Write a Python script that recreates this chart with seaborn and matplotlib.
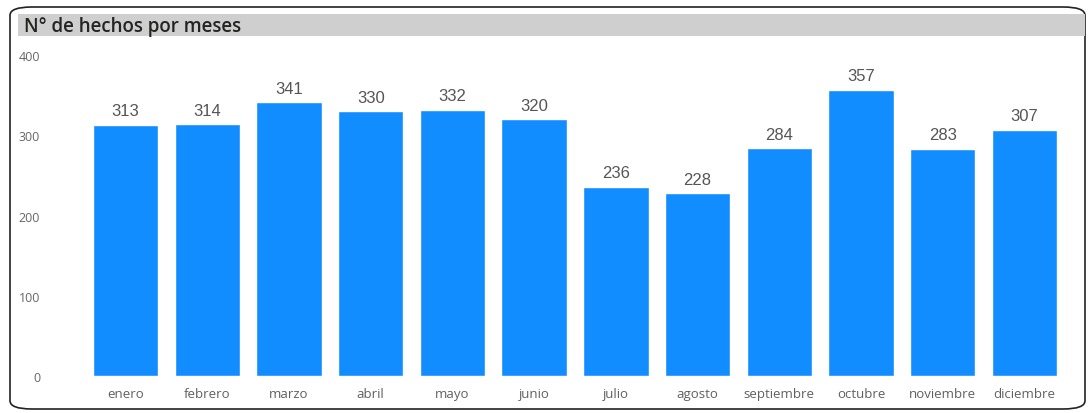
import numpy as np
import pandas as pd
import seaborn as sns
from matplotlib import pyplot as plt
from matplotlib.patches import FancyBboxPatch, Rectangle

meses = ['enero', 'febrero', 'marzo', 'abril', 'mayo', 'junio', 'julio',
         'agosto', 'septiembre', 'octubre', 'noviembre', 'diciembre']
hechos = [313, 314, 341, 330, 332, 320, 236, 228, 284, 357, 283, 307]
y_ticks = [0, 100, 200, 300, 400]
titulo = 'N° de hechos por meses'


def plot():
    sns.set_style('white')
    plt.rcParams['font.family'] = ['Open Sans', 'DejaVu Sans']

    fig = plt.figure(figsize=(10.91, 4.14), dpi=100)

    # marco redondeado y barra de titulo
    fig.patches.append(FancyBboxPatch((10 / 1091, 4 / 414), 1075 / 1091, 402 / 414,
                                      boxstyle='round,pad=0,rounding_size=0.02',
                                      transform=fig.transFigure, fill=False,
                                      edgecolor='#222222', linewidth=1.2))
    fig.patches.append(Rectangle((18 / 1091, 1 - 37 / 414), 1067 / 1091, 22 / 414,
                                 transform=fig.transFigure, facecolor='#cfcfcf',
                                 edgecolor='none'))
    fig.text(24 / 1091, 1 - 27 / 414, titulo, fontsize=13.5, fontweight='semibold',
             color='#252423', va='center', ha='left')

    ax = fig.add_axes([0.0776, 0.0894, 0.8989, 0.7753])
    data = pd.DataFrame({'mes': meses, 'hechos': hechos})
    sns.barplot(data=data, x='mes', y='hechos', color='#118DFF', saturation=1,
                width=0.8, ax=ax)

    for i, v in enumerate(hechos):
        ax.text(i, v + 8, str(v), ha='center', va='bottom', fontsize=12,
                color='#555555', family=['Liberation Sans', 'DejaVu Sans'])

    ax.set_ylim(0, 400)
    ax.set_xlim(-0.5, len(meses) - 0.5)
    ax.set_yticks(y_ticks)
    ax.set_yticklabels([str(t) for t in y_ticks])
    ax.tick_params(axis='y', labelsize=9, colors='#666666', pad=32, length=0)
    ax.tick_params(axis='x', labelsize=9.5, colors='#606060', pad=8, length=0)
    ax.set_xlabel('')
    ax.set_ylabel('')
    sns.despine(ax=ax, top=True, right=True, left=True, bottom=True)

    plt.savefig('out.png', dpi=100)


if __name__ == '__main__':
    plot()
